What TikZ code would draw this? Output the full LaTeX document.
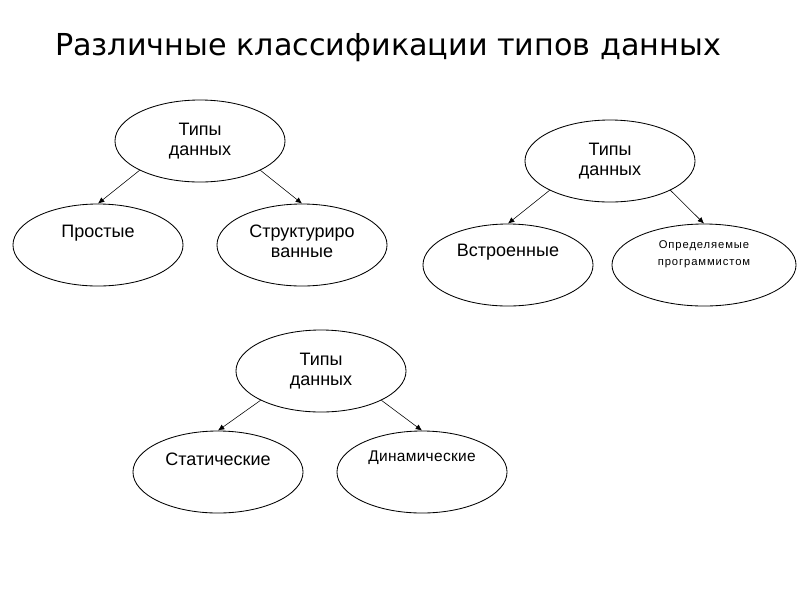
\documentclass[tikz,border=0pt]{standalone}
\usepackage{fontspec}
\setmainfont{Liberation Sans}
\newfontfamily\titlefont{DejaVu Sans}
\usetikzlibrary{positioning}
\usetikzlibrary{arrows, arrows.meta}
\usetikzlibrary{shapes.geometric}

\tikzset{
  oval/.style={draw, ellipse, line width=0.6pt, minimum width=4.25cm,
    minimum height=2.05cm, inner sep=0pt, align=center,
    font=\fontsize{12.8}{14.4}\selectfont},
  link/.style={-{Latex[length=4.5pt,width=4pt]}, line width=0.4pt}
}

\begin{document}
\begin{tikzpicture}[x=0.025cm, y=-0.025cm]
  \useasboundingbox (0,0) rectangle (800,600);

  \node (TITLE) at (388,48) {\titlefont\fontsize{21.5}{24}\selectfont Различные классификации типов данных};

  % first classification
  \node[oval] (T1) at (200,141) {Типы\\данных};
  \node[oval, label={[yshift=0.3cm, font=\fontsize{12.8}{14.4}\selectfont]center:Простые}] (L1) at (98,245) {};
  \node[oval, label={[yshift=0.1cm, font=\fontsize{12.8}{14.4}\selectfont, align=center]center:Структуриро\\ванные}] (R1) at (302,245) {};
  \draw[link] (T1.south west) -- (L1.north);
  \draw[link] (T1.south east) -- (R1.north);

  % second classification
  \node[oval] (T2) at (610,161) {Типы\\данных};
  \node[oval, label={[yshift=0.32cm, font=\fontsize{12.8}{14.4}\selectfont]center:Встроенные}] (L2) at (508,265) {};
  \node[oval, minimum width=4.6cm, label={[yshift=0.28cm, font=\fontsize{8}{12}\selectfont\addfontfeature{LetterSpace=8}, align=center]center:Определяемые\\программистом}] (R2) at (704,265) {};
  \draw[link] (T2.south west) -- (L2.north);
  \draw[link] (T2.south east) -- (R2.north);

  % third classification
  \node[oval] (T3) at (321,371) {Типы\\данных};
  \node[oval, label={[yshift=0.32cm, font=\fontsize{12.8}{14.4}\selectfont]center:Статические}] (L3) at (218,472) {};
  \node[oval, label={[yshift=0.35cm, font=\fontsize{11}{14}\selectfont\addfontfeature{LetterSpace=2}]center:Динамические}] (R3) at (422,472) {};
  \draw[link] (T3.south west) -- (L3.north);
  \draw[link] (T3.south east) -- (R3.north);
\end{tikzpicture}
\end{document}
